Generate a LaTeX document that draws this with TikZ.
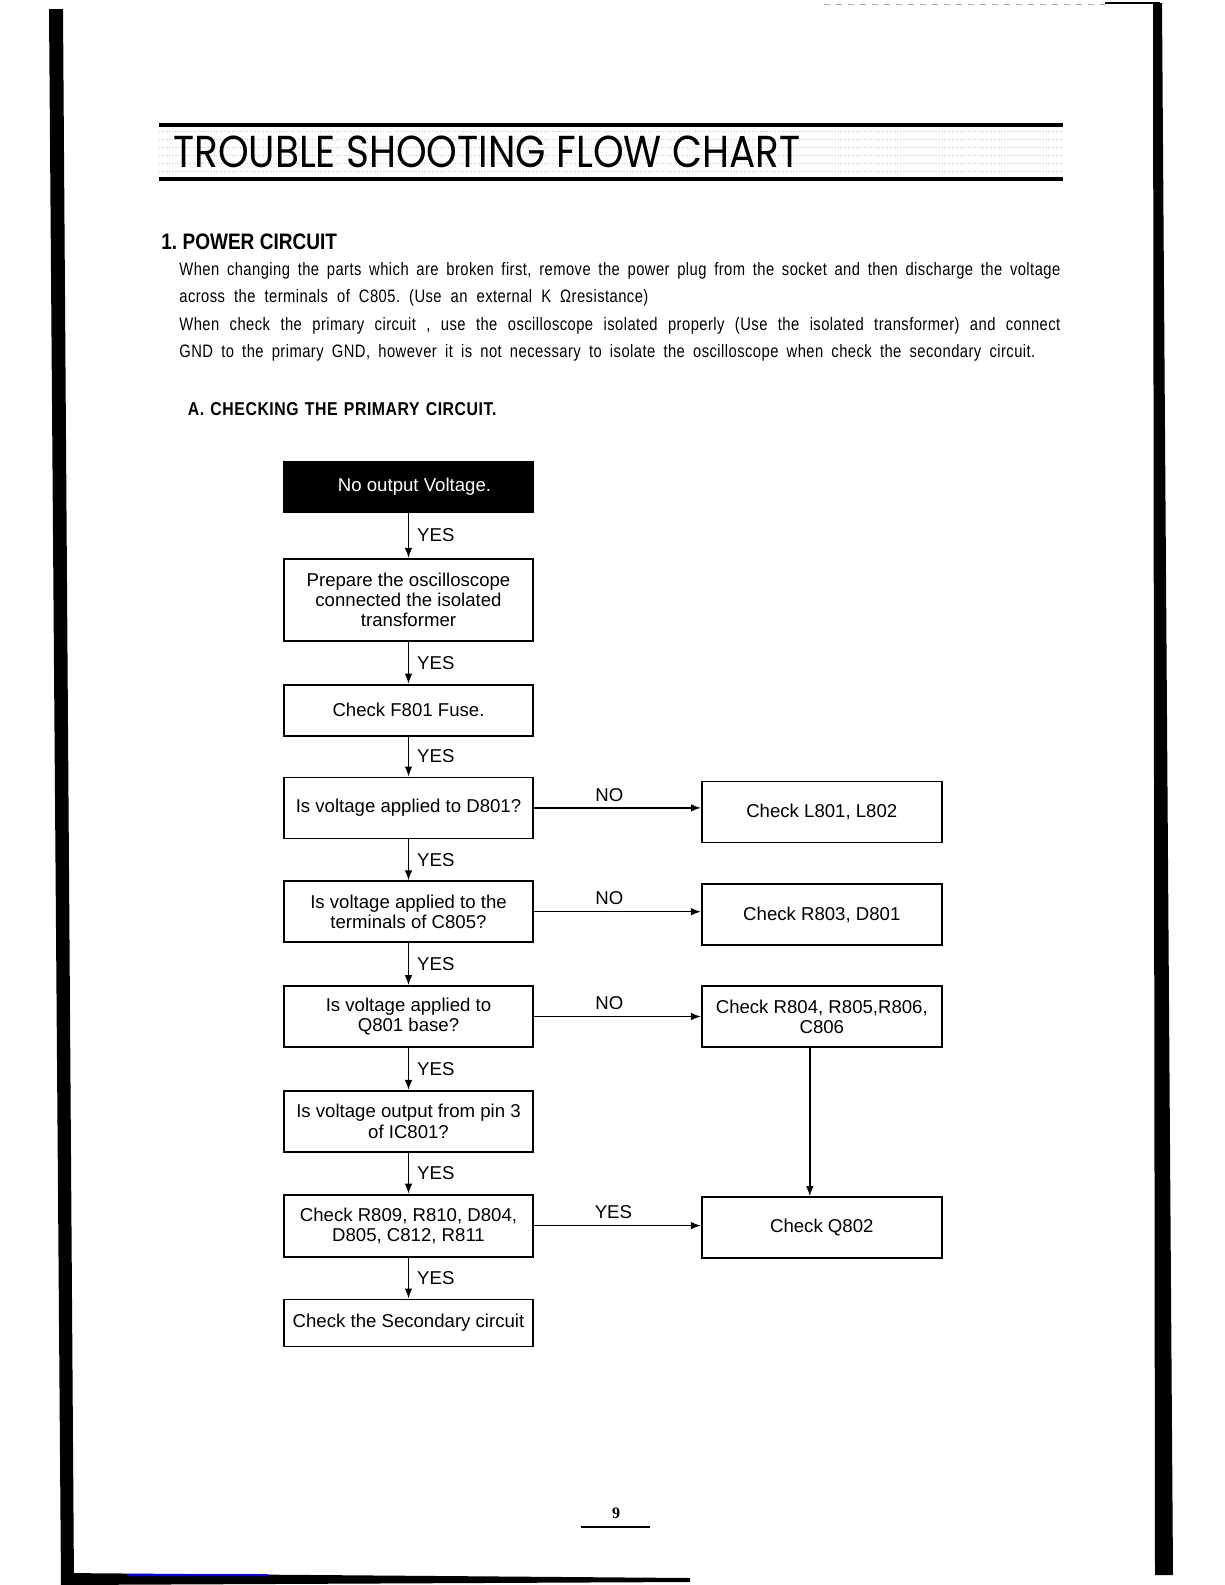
\documentclass[tikz,border=0pt]{standalone}
\usepackage{graphicx}
\usepackage{fontspec}
\setmainfont{Liberation Sans}
\newfontfamily\bodyfont[FakeStretch=0.82, LetterSpace=2.5]{Liberation Sans}
\newfontfamily\headfont[FakeStretch=0.85]{Liberation Sans}
\newfontfamily\subfont[FakeStretch=0.85, LetterSpace=3]{Liberation Sans}
\newfontfamily\titlefont{Poppins}
\newfontfamily\numfont{Liberation Serif}
\usetikzlibrary{positioning, arrows.meta}
\frenchspacing

\begin{document}
\begin{tikzpicture}[
        x=0.5pt, y=0.5pt,
        node distance=20.5pt and 83.5pt,
        box/.style={rectangle, draw, line width=0.9pt, minimum width=124.5pt, minimum height=30.5pt, align=center, inner sep=2pt, font=\fontsize{9.3}{10.1}\selectfont},
        sidebox/.style={box, minimum width=120pt},
        flow/.style={-{Latex[length=5pt,width=3.8pt]}, line width=0.7pt},
        lbl/.style={font=\fontsize{9.3}{10.1}\selectfont, inner sep=1pt},
        txtline/.style={anchor=base west, inner sep=0pt, font=\bodyfont\fontsize{9}{10}\selectfont}
    ]
    \useasboundingbox (0,0) rectangle (1225,-1585);

    % scanned page edges
    \fill (49,-9) -- (63,-9) -- (74,-1585) -- (61,-1585) -- cycle;
    \fill (62,-1573) -- (690,-1578) -- (690,-1582) -- (62,-1585) -- cycle;
    \draw[blue, line width=0.6pt] (127,-1575) -- (268,-1575);
    \fill (1153,-3) -- (1162,-3) -- (1173,-1575) -- (1155,-1575) -- cycle;
    \draw[gray!70, dashed, line width=0.4pt] (824,-4) -- (1105,-4);
    \draw[line width=1pt] (1105,-3) -- (1160,-3);

    % heading band
    \draw[line width=2pt] (159,-125) -- (1063,-125);
    \draw[line width=2pt] (159,-179) -- (1063,-179);
    \foreach \yy in {131,139,147,155,163,171}
        \draw[gray!45, densely dotted, line width=0.3pt] (159,-\yy) -- (1063,-\yy);
    \node[anchor=base west, inner sep=0pt] (title) at (173,-167)
        {\resizebox{313.5pt}{15.8pt}{\titlefont TROUBLE SHOOTING FLOW CHART}};

    % text above the chart
    \node[anchor=base west, inner sep=0pt] (sect) at (161,-249)
        {\headfont\bfseries\fontsize{11.2}{12}\selectfont 1. POWER CIRCUIT};
    \node[txtline] (line1) at (179,-275) {\makebox[440.5pt][s]{When changing the parts which are broken first, remove the power plug from the socket and then discharge the voltage}};
    \node[txtline] (line2) at (179,-302.5) {\makebox[234.5pt][s]{across the terminals of C805. (Use an external K Ωresistance)}};
    \node[txtline] (line3) at (179,-330) {\makebox[440.5pt][s]{When check the primary circuit , use the oscilloscope isolated properly (Use the isolated transformer) and connect}};
    \node[txtline] (line4) at (179,-357) {\makebox[428pt][s]{GND to the primary GND, however it is not necessary to isolate the oscilloscope when check the secondary circuit.}};
    \node[anchor=base west, inner sep=0pt] (subsect) at (187.5,-415)
        {\subfont\bfseries\fontsize{9.3}{10}\selectfont\makebox[154.3pt][s]{A. CHECKING THE PRIMARY CIRCUIT.}};

    % main column
    \node[box, fill=black, text=white, minimum height=25pt] (start) at (408.5,-487) {\hspace{6pt}No output Voltage.};
    \node[box, below=22.5pt of start, minimum height=41pt] (scope) {Prepare the oscilloscope\\connected the isolated\\transformer};
    \node[box, below=21pt of scope, minimum height=25.5pt] (fuse) {Check F801 Fuse.};
    \node[box, below=20pt of fuse] (d801) {Is voltage applied to D801?};
    \node[box, below=of d801] (c805) {Is voltage applied to the\\terminals of C805?};
    \node[box, below=21pt of c805] (q801) {Is voltage applied to\\Q801 base?};
    \node[box, below=21pt of q801] (ic801) {Is voltage output from pin 3\\of IC801?};
    \node[box, below=of ic801, minimum height=31pt] (r809) {Check R809, R810, D804,\\D805, C812, R811};
    \node[box, below=of r809, minimum height=23.5pt] (second) {Check the Secondary circuit};

    % side column
    \node[sidebox, right=of d801, yshift=-2pt] (l801) {Check L801, L802};
    \node[sidebox, right=of c805, yshift=-1.5pt] (r803) {Check R803, D801};
    \node[sidebox, right=of q801] (r804) {Check R804, R805,R806,\\C806};
    \node[sidebox, right=of r809, yshift=-1pt] (q802) {Check Q802};

    % YES steps
    \draw[flow] (start) -- node[lbl, right=3pt] {YES} (scope);
    \draw[flow] (scope) -- node[lbl, right=3pt] {YES} (fuse);
    \draw[flow] (fuse) -- node[lbl, right=3pt] {YES} (d801);
    \draw[flow] (d801) -- node[lbl, right=3pt] {YES} (c805);
    \draw[flow] (c805) -- node[lbl, right=3pt] {YES} (q801);
    \draw[flow] (q801) -- node[lbl, right=3pt] {YES} (ic801);
    \draw[flow] (ic801) -- node[lbl, right=3pt] {YES} (r809);
    \draw[flow] (r809) -- node[lbl, right=3pt] {YES} (second);

    % NO branches
    \draw[flow] (d801.east) -- node[lbl, above=2pt, xshift=-4pt] {NO} (d801.east -| l801.west);
    \draw[flow] (c805.east) -- node[lbl, above=2pt, xshift=-4pt] {NO} (c805.east -| r803.west);
    \draw[flow] (q801.east) -- node[lbl, above=2pt, xshift=-4pt] {NO} (q801.east -| r804.west);
    \draw[flow] ([xshift=-6pt]r804.south) -- ([xshift=-6pt]r804.south |- q802.north);
    \draw[flow] (r809.east) -- node[lbl, above=2pt, xshift=-2pt] {YES} (r809.east -| q802.west);

    % page number
    \node[font=\numfont\bfseries\fontsize{8}{9}\selectfont, inner sep=0pt] (pagenum) at (616,-1513) {9};
    \draw[line width=0.6pt] (581,-1527) -- (650,-1527);
\end{tikzpicture}
\end{document}
